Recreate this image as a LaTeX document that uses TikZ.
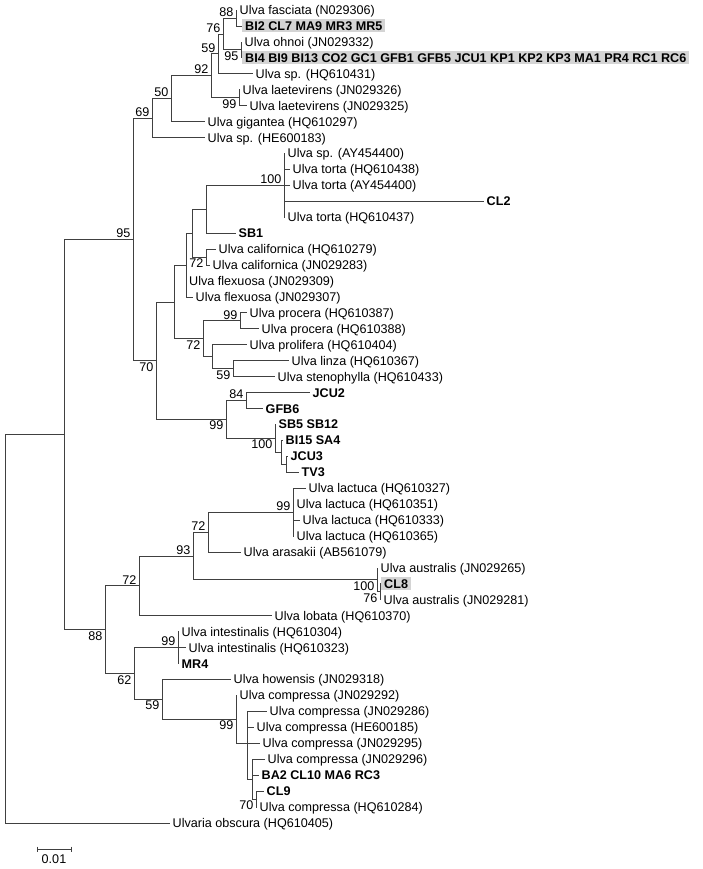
\documentclass[tikz,border=0pt]{standalone}
\usepackage{fontspec}
\setmainfont{Liberation Sans}
\usetikzlibrary{calc}
\begin{document}
\begin{tikzpicture}[x=1pt,y=-1pt,
  br/.style={draw=black!75, line width=0.75pt},
  lf/.style={anchor=west, inner xsep=2.5pt, inner ysep=0pt, text height=9pt, text depth=0pt, font=\fontsize{12.6}{14}\selectfont},
  lfb/.style={lf, font=\fontsize{12.6}{14}\selectfont\bfseries},
  hl/.style={lfb, fill=black!17, inner xsep=3pt, inner ysep=2pt},
  bsa/.style={anchor=south east, inner sep=0pt, xshift=-2.5pt, yshift=1.5pt, font=\fontsize{12.6}{14}\selectfont},
  bsb/.style={anchor=north east, inner sep=0pt, xshift=-2.5pt, yshift=-1.5pt, font=\fontsize{12.6}{14}\selectfont}]
\useasboundingbox (0,0) rectangle (702,869);

% ---- leaves ----
\node[lf]  (l1)  at (237,10.00)  {Ulva fasciata (N029306)};
\node[hl]  (l2)  at (242,25.94)  {BI2 CL7 MA9 MR3 MR5};
\node[lf]  (l3)  at (242,41.88)  {Ulva ohnoi (JN029332)};
\node[hl]  (l4)  at (242,57.82)  {BI4 BI9 BI13 CO2 GC1 GFB1 GFB5 JCU1 KP1 KP2 KP3 MA1 PR4 RC1 RC6};
\node[lf]  (l5)  at (253,73.76)  {Ulva sp. (HQ610431)};
\node[lf]  (l6)  at (240,89.70)  {Ulva laetevirens (JN029326)};
\node[lf]  (l7)  at (247,105.64) {Ulva laetevirens (JN029325)};
\node[lf]  (l8)  at (205,121.58) {Ulva gigantea (HQ610297)};
\node[lf]  (l9)  at (205,137.52) {Ulva sp. (HE600183)};
\node[lf]  (l10) at (285,153.46) {Ulva sp. (AY454400)};
\node[lf]  (l11) at (290,169.40) {Ulva torta (HQ610438)};
\node[lf]  (l12) at (290,185.34) {Ulva torta (AY454400)};
\node[lfb] (l13) at (484,201.28) {CL2};
\node[lf]  (l14) at (285,217.22) {Ulva torta (HQ610437)};
\node[lfb] (l15) at (236,233.16) {SB1};
\node[lf]  (l16) at (216,249.10) {Ulva californica (HQ610279)};
\node[lf]  (l17) at (210,265.04) {Ulva californica (JN029283)};
\node[lf]  (l18) at (186.5,280.98) {Ulva flexuosa (JN029309)};
\node[lf]  (l19) at (193,296.92) {Ulva flexuosa (JN029307)};
\node[lf]  (l20) at (247,312.86) {Ulva procera (HQ610387)};
\node[lf]  (l21) at (259,328.80) {Ulva procera (HQ610388)};
\node[lf]  (l22) at (247,344.74) {Ulva prolifera (HQ610404)};
\node[lf]  (l23) at (289,360.68) {Ulva linza (HQ610367)};
\node[lf]  (l24) at (275,376.62) {Ulva stenophylla (HQ610433)};
\node[lfb] (l25) at (310,392.56) {JCU2};
\node[lfb] (l26) at (263,408.50) {GFB6};
\node[lfb] (l27) at (276,424.44) {SB5 SB12};
\node[lfb] (l28) at (283,440.38) {BI15 SA4};
\node[lfb] (l29) at (288,456.32) {JCU3};
\node[lfb] (l30) at (299,472.26) {TV3};
\node[lf]  (l31) at (306,488.20) {Ulva lactuca (HQ610327)};
\node[lf]  (l32) at (294,504.14) {Ulva lactuca (HQ610351)};
\node[lf]  (l33) at (300,520.08) {Ulva lactuca (HQ610333)};
\node[lf]  (l34) at (294,536.02) {Ulva lactuca (HQ610365)};
\node[lf]  (l35) at (241,551.96) {Ulva arasakii (AB561079)};
\node[lf]  (l36) at (378,567.90) {Ulva australis (JN029265)};
\node[hl]  (l37) at (381,583.84) {CL8};
\node[lf]  (l38) at (381,599.78) {Ulva australis (JN029281)};
\node[lf]  (l39) at (272,615.72) {Ulva lobata (HQ610370)};
\node[lf]  (l40) at (179,631.66) {Ulva intestinalis (HQ610304)};
\node[lf]  (l41) at (186,647.60) {Ulva intestinalis (HQ610323)};
\node[lfb] (l42) at (179,663.54) {MR4};
\node[lf]  (l43) at (231,679.48) {Ulva howensis (JN029318)};
\node[lf]  (l44) at (237,695.42) {Ulva compressa (JN029292)};
\node[lf]  (l45) at (267,711.36) {Ulva compressa (JN029286)};
\node[lf]  (l46) at (254,727.30) {Ulva compressa (HE600185)};
\node[lf]  (l47) at (260,743.24) {Ulva compressa (JN029295)};
\node[lf]  (l48) at (265,759.18) {Ulva compressa (JN029296)};
\node[lfb] (l49) at (259,775.12) {BA2 CL10 MA6 RC3};
\node[lfb] (l50) at (264,791.06) {CL9};
\node[lf]  (l51) at (257,807.00) {Ulva compressa (HQ610284)};
\node[lf]  (l52) at (170,822.94) {Ulvaria obscura (HQ610405)};

% ---- internal nodes ----
\coordinate (n88)   at (236,17.97);
\coordinate (n95)   at (241,49.85);
\coordinate (n76)   at (223,33.91);
\coordinate (n59a)  at (218,53.84);
\coordinate (n99a)  at (239,97.67);
\coordinate (n92)   at (211,75.76);
\coordinate (n50)   at (171,98.67);
\coordinate (n69)   at (152,118.10);
\coordinate (n100a) at (284,185.34);
\coordinate (nts)   at (206,209.25);
\coordinate (ncal)  at (206,257.07);
\coordinate (ny)    at (192,233.16);
\coordinate (nf)    at (186,265.04);
\coordinate (n99c)  at (240,320.83);
\coordinate (n59b)  at (233,368.65);
\coordinate (npl)   at (212,356.70);
\coordinate (n72c)  at (203,338.77);
\coordinate (nbig)  at (174,301.90);
\coordinate (n84)   at (246,400.53);
\coordinate (nx3)   at (286,464.29);
\coordinate (nx2)   at (281,452.34);
\coordinate (n100b) at (275,438.39);
\coordinate (n99b)  at (226,419.46);
\coordinate (n70)   at (156,360.68);
\coordinate (nB)    at (133,239.39);
\coordinate (n99d)  at (293,512.11);
\coordinate (n72e)  at (208,532.04);
\coordinate (n76b)  at (380,591.81);
\coordinate (n100c) at (377,579.86);
\coordinate (n93)   at (193,555.95);
\coordinate (n72d)  at (139,585.84);
\coordinate (n99e)  at (178,647.60);
\coordinate (n70b)  at (256,799.03);
\coordinate (nd)    at (252,779.11);
\coordinate (nc)    at (247,743.24);
\coordinate (n99f)  at (236,719.33);
\coordinate (n59c)  at (162,699.40);
\coordinate (n62)   at (134,673.50);
\coordinate (nC)    at (105,629.70);
\coordinate (nA)    at (64,434.55);
\coordinate (root)  at (5,628.75);

% ---- branches ----
\foreach \p/\c in {n88/l1.west, n88/l2.west, n95/l3.west, n95/l4.west,
  n76/n88, n76/n95, n59a/n76, n59a/l5.west, n99a/l6.west, n99a/l7.west,
  n92/n59a, n92/n99a, n50/n92, n50/l8.west, n69/n50, n69/l9.west,
  n100a/l10.west, n100a/l11.west, n100a/l12.west, n100a/l13.west, n100a/l14.west,
  nts/n100a, nts/l15.west, ncal/l16.west, ncal/l17.west, ny/nts, ny/ncal,
  nf/ny, nf/l18.west, nf/l19.west, n99c/l20.west, n99c/l21.west,
  n59b/l23.west, n59b/l24.west, npl/l22.west, npl/n59b, n72c/n99c, n72c/npl,
  nbig/nf, nbig/n72c, n84/l25.west, n84/l26.west, nx3/l29.west, nx3/l30.west,
  nx2/l28.west, nx2/nx3, n100b/l27.west, n100b/nx2, n99b/n84, n99b/n100b,
  n70/nbig, n70/n99b, nB/n69, nB/n70,
  n99d/l31.west, n99d/l32.west, n99d/l33.west, n99d/l34.west, n72e/n99d, n72e/l35.west,
  n76b/l37.west, n76b/l38.west, n100c/l36.west, n100c/n76b, n93/n72e, n93/n100c,
  n72d/n93, n72d/l39.west, n99e/l40.west, n99e/l41.west, n99e/l42.west,
  n70b/l50.west, n70b/l51.west, nd/l48.west, nd/l49.west, nd/n70b,
  nc/l45.west, nc/l46.west, nc/l47.west, nc/nd, n99f/l44.west, n99f/nc,
  n59c/l43.west, n59c/n99f, n62/n99e, n62/n59c, nC/n72d, nC/n62,
  nA/nB, nA/nC, root/nA, root/l52.west}
  \draw[br] (\p) |- (\c);

% ---- bootstrap values ----
\node[bsa] (b88)  at (n88)   {88};
\node[bsa] (b76)  at (n76)   {76};
\node[bsb] (b95)  at (n95)   {95};
\node[bsa] (b59)  at (n59a)  {59};
\node[bsb] (b99a) at (n99a)  {99};
\node[bsa] (b92)  at (n92)   {92};
\node[bsa] (b50)  at (n50)   {50};
\node[bsa] (b69)  at (n69)   {69};
\node[bsa] (b95B) at (nB)    {95};
\node[bsa] (b100a) at (n100a) {100};
\node[bsb] (b72a) at (ncal)  {72};
\node[bsa] (b99c) at (n99c)  {99};
\node[bsb] (b72c) at (n72c)  {72};
\node[bsb] (b59b) at (n59b)  {59};
\node[bsb] (b70)  at (n70)   {70};
\node[bsa] (b84)  at (n84)   {84};
\node[bsb] (b99b) at (n99b)  {99};
\node[bsb] (b100b) at (n100b) {100};
\node[bsa] (b99d) at (n99d)  {99};
\node[bsa] (b72e) at (n72e)  {72};
\node[bsa] (b93)  at (n93)   {93};
\node[bsb] (b100c) at (n100c) {100};
\node[bsb] (b76b) at (n76b)  {76};
\node[bsa] (b72d) at (n72d)  {72};
\node[bsb] (b88C) at (nC)    {88};
\node[bsa] (b99e) at (n99e)  {99};
\node[bsb] (b62)  at (n62)   {62};
\node[bsb] (b59c) at (n59c)  {59};
\node[bsb] (b99f) at (n99f)  {99};
\node[bsb] (b70b) at (n70b)  {70};

% ---- scale bar ----
\coordinate (sbL) at (37,849);
\coordinate (sbR) at (71,849);
\draw[br] (sbL) -- (sbR);
\draw[br] ([yshift=2.5pt]sbL) -- ([yshift=-2.5pt]sbL);
\draw[br] ([yshift=2.5pt]sbR) -- ([yshift=-2.5pt]sbR);
\node[font=\fontsize{12.6}{14}\selectfont, inner sep=0pt, anchor=north] (sbt) at ($(sbL)!0.5!(sbR)+(0,5)$) {0.01};
\end{tikzpicture}
\end{document}
